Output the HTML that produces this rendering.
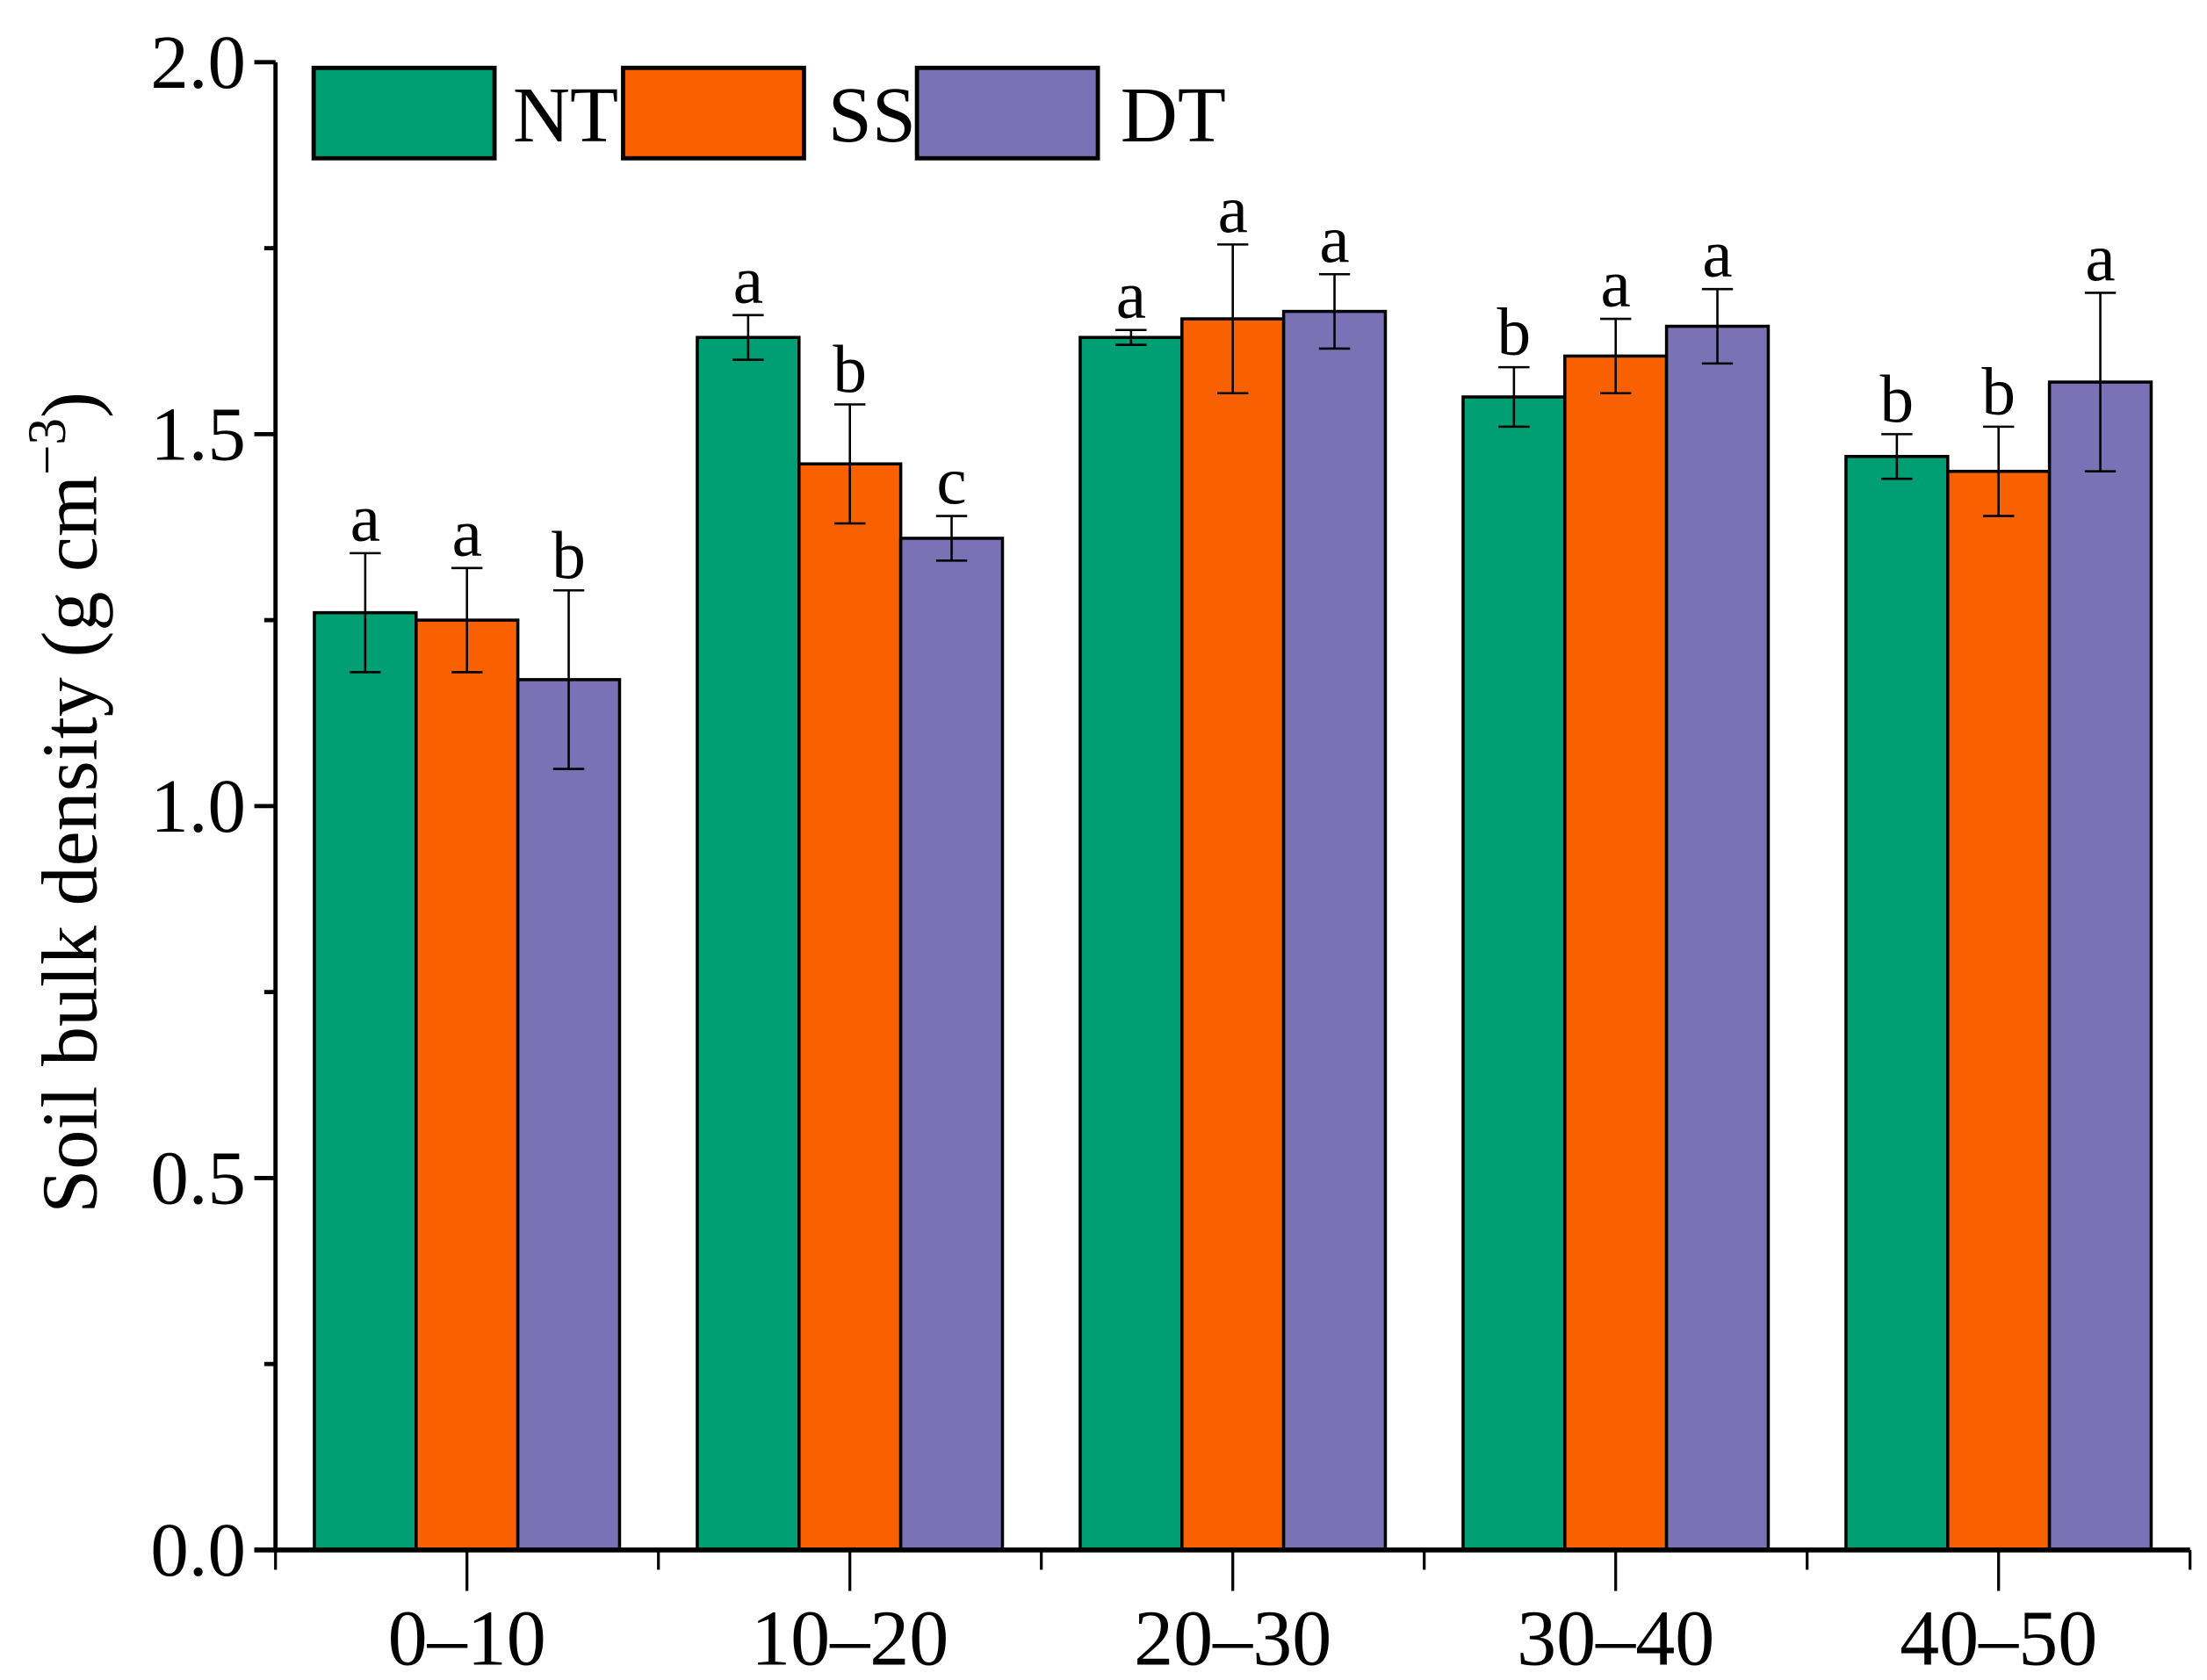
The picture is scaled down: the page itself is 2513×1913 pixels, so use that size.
<!DOCTYPE html>
<html><head><meta charset="utf-8"><style>
html,body{margin:0;padding:0;background:#fff;}
svg{display:block;}
text{font-family:"Liberation Serif",serif;fill:#000;}
</style></head><body>
<svg id="chart" width="2513" height="1913" viewBox="0 0 1562 1189" xmlns="http://www.w3.org/2000/svg">
<g id="bars"></g>
<g id="axes"></g>
<g id="legend"></g>
</svg>
<script>
const categories = ["0–10","10–20","20–30","30–40","40–50"];
const seriesNames = ["NT","SS","DT"];
const ntValues = [1.26,1.63,1.63,1.55,1.47];
const ssValues = [1.25,1.46,1.655,1.605,1.45];
const dtValues = [1.17,1.36,1.665,1.645,1.57];
const ntErrors = [0.08,0.03,0.01,0.04,0.03];
const ssErrors = [0.07,0.08,0.10,0.05,0.06];
const dtErrors = [0.12,0.03,0.05,0.05,0.12];
const ntLetters = ["a","a","a","b","b"];
const ssLetters = ["a","b","a","a","b"];
const dtLetters = ["b","c","a","a","a"];
const yTicks = [0,0.5,1.0,1.5,2.0];
const yTickLabels = ["0.0","0.5","1.0","1.5","2.0"];

const colors = ["#009E73","#F86000","#7A72B5"];
const NS = "http://www.w3.org/2000/svg";
const x0 = 195, x1 = 1550, yBase = 1097, yTop = 44, yMax = 2.0;
const catW = (x1 - x0) / categories.length;
const barW = 72;
function yScale(v){ return yBase - (v / yMax) * (yBase - yTop); }
function xCenter(i){ return x0 + catW * (i + 0.5); }
function mk(tag, attrs, parent){
  const e = document.createElementNS(NS, tag);
  for (const k in attrs) e.setAttribute(k, attrs[k]);
  parent.appendChild(e); return e;
}
const barsG = document.getElementById('bars');
const axesG = document.getElementById('axes');
const legG = document.getElementById('legend');
const vals = [ntValues, ssValues, dtValues];
const errs = [ntErrors, ssErrors, dtErrors];
const lets = [ntLetters, ssLetters, dtLetters];

categories.forEach((c, i) => {
  for (let s = 0; s < 3; s++) {
    const v = vals[s][i], e = errs[s][i];
    const bx = xCenter(i) - 1.5 * barW + s * barW;
    const r = mk('rect', {x: bx, y: yScale(v), width: barW, height: yBase - yScale(v), fill: colors[s], stroke: '#000', 'stroke-width': 2.2}, barsG);
    
    
    const cx = bx + barW / 2, yh = yScale(v + e), yl = yScale(v - e);
    const eg = mk('g', {stroke: '#000', 'stroke-width': 1.6}, barsG);
    
    
    mk('line', {x1: cx, x2: cx, y1: yh, y2: yl}, eg);
    mk('line', {x1: cx - 11, x2: cx + 11, y1: yh, y2: yh}, eg);
    mk('line', {x1: cx - 11, x2: cx + 11, y1: yl, y2: yl}, eg);
    const t = mk('text', {x: cx, y: yh - 9, 'text-anchor': 'middle', 'font-size': 48}, barsG);
    t.textContent = lets[s][i];
    
    
  }
});

const ya = mk('line', {x1: x0, x2: x0, y1: yTop, y2: yBase, stroke: '#000', 'stroke-width': 3}, axesG);


const xa = mk('line', {x1: x0 - 15, x2: x1, y1: yBase, y2: yBase, stroke: '#000', 'stroke-width': 3.5}, axesG);


yTicks.forEach((v, k) => {
  const y = yScale(v);
  mk('line', {x1: x0 - 15, x2: x0, y1: y, y2: y, stroke: '#000', 'stroke-width': 3}, axesG);
  if (k < yTicks.length - 1) {
    const ym = yScale(v + 0.25);
    mk('line', {x1: x0 - 8, x2: x0, y1: ym, y2: ym, stroke: '#000', 'stroke-width': 3}, axesG);
  }
  const t = mk('text', {x: 174, y: y + 18, 'text-anchor': 'end', 'font-size': 54}, axesG);
  t.textContent = yTickLabels[k];
  
  
});
for (let i = 0; i <= categories.length; i++) {
  const x = x0 + catW * i;
  mk('line', {x1: x, x2: x, y1: yBase, y2: yBase + 14, stroke: '#000', 'stroke-width': 2}, axesG);
}
categories.forEach((c, i) => {
  const x = xCenter(i);
  mk('line', {x1: x, x2: x, y1: yBase, y2: yBase + 29, stroke: '#000', 'stroke-width': 2}, axesG);
  const t = mk('text', {x: x, y: 1178, 'text-anchor': 'middle', 'font-size': 56}, axesG);
  t.textContent = c;
  
  
});
const yt = mk('text', {x: 0, y: 0, 'text-anchor': 'middle', 'font-size': 56, transform: 'translate(68,568) rotate(-90)'}, axesG);


yt.innerHTML = 'Soil bulk density (g cm<tspan dy="-22" font-size="38">−3</tspan><tspan dy="22">)</tspan>';

const legX = [222, 441, 649], legLabelX = [363, 586, 793];
seriesNames.forEach((n, s) => {
  const r = mk('rect', {x: legX[s], y: 48, width: 128, height: 64, fill: colors[s], stroke: '#000', 'stroke-width': 3}, legG);
  
  
  const t = mk('text', {x: legLabelX[s], y: 100, 'font-size': 56}, legG);
  t.textContent = n;
  
  
});
</script>
</body></html>
